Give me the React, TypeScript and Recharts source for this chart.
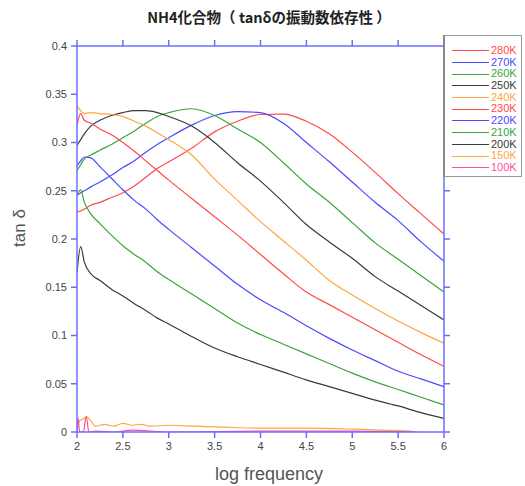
import React from "react";
import { LineChart, Line, XAxis, YAxis } from "recharts";

const xGrid = [2.0, 2.04, 2.08, 2.15, 2.25, 2.375, 2.5, 2.625, 2.75, 2.875, 3.0, 3.25, 3.5, 3.75, 4.0, 4.25, 4.5, 4.75, 5.0, 5.25, 5.5, 5.75, 6.0];

const k280 = [0.228, 0.229, 0.231, 0.235, 0.238, 0.243, 0.248, 0.255, 0.264, 0.273, 0.280, 0.294, 0.311, 0.322, 0.329, 0.3295, 0.322, 0.309, 0.290, 0.269, 0.247, 0.226, 0.205];
const k270 = [0.245, 0.248, 0.250, 0.254, 0.259, 0.266, 0.274, 0.281, 0.290, 0.298, 0.305, 0.318, 0.328, 0.332, 0.331, 0.320, 0.300, 0.280, 0.259, 0.238, 0.219, 0.197, 0.177];
const k260 = [0.271, 0.277, 0.283, 0.287, 0.292, 0.298, 0.305, 0.312, 0.320, 0.327, 0.331, 0.335, 0.328, 0.314, 0.300, 0.279, 0.257, 0.238, 0.217, 0.196, 0.179, 0.162, 0.145];
const k250 = [0.297, 0.303, 0.309, 0.317, 0.323, 0.328, 0.331, 0.333, 0.333, 0.331, 0.327, 0.317, 0.300, 0.279, 0.260, 0.238, 0.215, 0.197, 0.180, 0.161, 0.146, 0.131, 0.116];
const k240 = [0.338, 0.333, 0.330, 0.331, 0.330, 0.329, 0.327, 0.322, 0.317, 0.310, 0.303, 0.287, 0.262, 0.240, 0.218, 0.198, 0.178, 0.157, 0.142, 0.128, 0.115, 0.103, 0.092];
const k230 = [0.318, 0.330, 0.323, 0.320, 0.314, 0.308, 0.300, 0.291, 0.281, 0.271, 0.261, 0.242, 0.223, 0.204, 0.184, 0.164, 0.145, 0.132, 0.119, 0.106, 0.093, 0.080, 0.068];
const k220 = [0.276, 0.281, 0.285, 0.284, 0.275, 0.263, 0.251, 0.240, 0.231, 0.220, 0.210, 0.191, 0.172, 0.153, 0.137, 0.124, 0.110, 0.097, 0.085, 0.074, 0.063, 0.055, 0.047];
const k210 = [0.246, 0.251, 0.238, 0.226, 0.216, 0.204, 0.193, 0.184, 0.176, 0.166, 0.158, 0.143, 0.128, 0.113, 0.101, 0.091, 0.081, 0.071, 0.061, 0.052, 0.044, 0.036, 0.028];
const k200 = [0.165, 0.192, 0.176, 0.164, 0.157, 0.148, 0.141, 0.133, 0.126, 0.118, 0.112, 0.099, 0.087, 0.078, 0.070, 0.062, 0.054, 0.047, 0.040, 0.033, 0.027, 0.020, 0.014];

const x150 = [2.0, 2.03, 2.06, 2.1, 2.15, 2.2, 2.3, 2.4, 2.5, 2.6, 2.7, 2.8, 3.0, 3.3, 3.6, 4.0, 4.5, 5.0, 5.3, 5.65];
const k150 = [0.0, 0.012, 0.013, 0.016, 0.012, 0.006, 0.008, 0.006, 0.009, 0.007, 0.008, 0.006, 0.007, 0.006, 0.005, 0.004, 0.004, 0.003, 0.002, 0.001];
const x100 = [2.0, 2.01, 2.03, 2.07, 2.1, 2.13, 2.2, 2.4, 2.6, 3.0, 4.0, 5.0, 5.7];
const k100 = [0.0, 0.015, 0.0, 0.0, 0.016, 0.0, 0.001, 0.0, 0.002, 0.0, 0.001, 0.001, 0.0];

const xTicks = [2, 2.5, 3, 3.5, 4, 4.5, 5, 5.5, 6];
const yTicks = [0, 0.05, 0.1, 0.15, 0.2, 0.25, 0.3, 0.35, 0.4];

const RED = "#ff4a4a";
const BLUE = "#4a4aff";
const GREEN = "#3aa53a";
const BLACK = "#3a3a3a";
const ORANGE = "#ffa640";
const PINK = "#ff4fa0";
const AXIS = "#6c6cff";

const toData = (xs: number[], ys: number[]) => xs.map((x, i) => ({ x, y: ys[i] }));

const series = [
  { name: "280K", color: RED, data: toData(xGrid, k280) },
  { name: "270K", color: BLUE, data: toData(xGrid, k270) },
  { name: "260K", color: GREEN, data: toData(xGrid, k260) },
  { name: "250K", color: BLACK, data: toData(xGrid, k250) },
  { name: "240K", color: ORANGE, data: toData(xGrid, k240) },
  { name: "230K", color: RED, data: toData(xGrid, k230) },
  { name: "220K", color: BLUE, data: toData(xGrid, k220) },
  { name: "210K", color: GREEN, data: toData(xGrid, k210) },
  { name: "200K", color: BLACK, data: toData(xGrid, k200) },
  { name: "150K", color: ORANGE, data: toData(x150, k150) },
  { name: "100K", color: PINK, data: toData(x100, k100) },
];

const tickStyle = { fontSize: 11, fill: "#444", fontFamily: "Liberation Sans, Arial, sans-serif" };
const fmt = (v: number) => String(+v.toFixed(2));

export default function App() {
  return (
    <div style={{ position: "absolute", left: 0, top: 0, width: 525, height: 486, background: "#fff" }}>
      <LineChart width={525} height={486} margin={{ top: 0, right: 0, bottom: 0, left: 0 }}>
        <XAxis
          xAxisId="b"
          type="number"
          dataKey="x"
          orientation="bottom"
          domain={[2, 6]}
          ticks={xTicks}
          height={54}
          tickFormatter={fmt}
          tick={tickStyle}
          tickSize={6}
          tickMargin={4}
          axisLine={{ stroke: AXIS, strokeWidth: 1.5 }}
          tickLine={{ stroke: AXIS, strokeWidth: 1.5 }}
          allowDataOverflow
        />
        <XAxis
          xAxisId="t"
          type="number"
          dataKey="x"
          orientation="top"
          domain={[2, 6]}
          ticks={xTicks}
          height={46}
          tickFormatter={() => ""}
          tickSize={6}
          axisLine={{ stroke: AXIS, strokeWidth: 1.5 }}
          tickLine={{ stroke: AXIS, strokeWidth: 1.5 }}
          allowDataOverflow
        />
        <YAxis
          yAxisId="l"
          type="number"
          orientation="left"
          domain={[0, 0.4]}
          ticks={yTicks}
          width={77}
          tickFormatter={fmt}
          tick={tickStyle}
          tickSize={6}
          tickMargin={4}
          axisLine={{ stroke: AXIS, strokeWidth: 1.5 }}
          tickLine={{ stroke: AXIS, strokeWidth: 1.5 }}
          allowDataOverflow
        />
        <YAxis
          yAxisId="r"
          type="number"
          orientation="right"
          domain={[0, 0.4]}
          ticks={yTicks}
          width={81}
          tickFormatter={() => ""}
          tickSize={6}
          axisLine={{ stroke: AXIS, strokeWidth: 1.5 }}
          tickLine={{ stroke: AXIS, strokeWidth: 1.5 }}
          allowDataOverflow
        />
        {series.map((s) => (
          <Line
            key={s.name}
            xAxisId="b"
            yAxisId="l"
            data={s.data}
            dataKey="y"
            name={s.name}
            type="monotone"
            stroke={s.color}
            strokeWidth={1.2}
            dot={false}
            isAnimationActive={false}
          />
        ))}
      </LineChart>

      <div
        style={{
          position: "absolute",
          left: 0,
          width: 538,
          top: 8,
          textAlign: "center",
          fontFamily: "Noto Sans CJK JP, sans-serif",
          fontWeight: 700,
          fontSize: 14.5,
          color: "#222",
          lineHeight: "18px",
        }}
      >
        NH4化合物（ tanδの振動数依存性 ）
      </div>

      <div
        style={{
          position: "absolute",
          left: 20,
          top: 228,
          transform: "translate(-50%, -50%) rotate(-90deg)",
          fontFamily: "Liberation Sans, Arial, sans-serif",
          fontSize: 17,
          color: "#555",
          whiteSpace: "nowrap",
        }}
      >
        tan δ
      </div>

      <div
        style={{
          position: "absolute",
          left: 0,
          width: 538,
          top: 462,
          textAlign: "center",
          fontFamily: "Liberation Sans, Arial, sans-serif",
          fontSize: 18,
          color: "#555",
          lineHeight: "24px",
        }}
      >
        log frequency
      </div>

      <div
        style={{
          position: "absolute",
          left: 443,
          top: 35,
          width: 79,
          height: 142,
          background: "#fff",
          border: "1px solid #999",
          borderLeft: "2px solid #888",
          boxSizing: "border-box",
          paddingTop: 9,
        }}
      >
        {series.map((s) => (
          <div key={s.name} style={{ display: "flex", alignItems: "center", height: 11.7 }}>
            <div style={{ width: 37, marginLeft: 7, height: 0, borderTop: `1px solid ${s.color}` }} />
            <span
              style={{
                marginLeft: 2,
                color: s.color,
                fontFamily: "Liberation Sans, Arial, sans-serif",
                fontSize: 11,
                lineHeight: "11.7px",
              }}
            >
              {s.name}
            </span>
          </div>
        ))}
      </div>
    </div>
  );
}
